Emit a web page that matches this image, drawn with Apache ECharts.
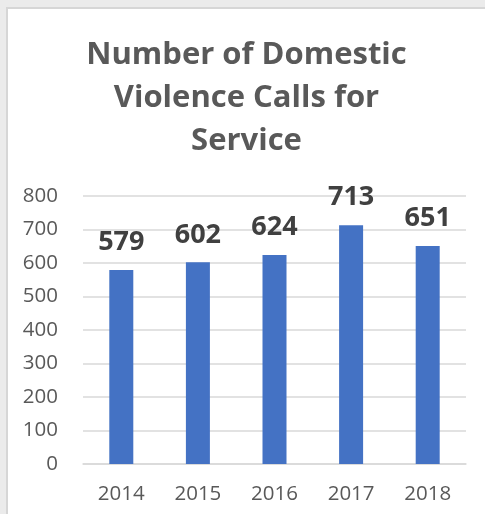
<!DOCTYPE html>
<html>
<head>
<meta charset="utf-8">
<script src="https://cdn.jsdelivr.net/npm/echarts@6/dist/echarts.min.js"></script>
<style>
  html, body { margin: 0; padding: 0; background: #ebebeb; width: 485px; height: 514px; overflow: hidden; }
  #chart { position: absolute; left: 6px; top: 7px; width: 477px; height: 505px; background: #ffffff;
           border-left: 2px solid #d6d6d6; border-top: 2px solid #d6d6d6; }
</style>
</head>
<body>
<div id="chart"></div>
<script>
const categories = ['2014', '2015', '2016', '2017', '2018'];
const calls = [579, 602, 624, 713, 651];
const yTicks = { min: 0, max: 800, interval: 100 };
const titleText = 'Number of Domestic\nViolence Calls for\nService';

const chart = echarts.init(document.getElementById('chart'), null, { renderer: 'canvas' });
const fontFamily = '"Open Sans", "Noto Sans", sans-serif';
chart.setOption({
  animation: false,
  backgroundColor: '#ffffff',
  title: {
    text: titleText,
    left: 'center',
    top: 20,
    textStyle: {
      fontFamily: fontFamily,
      fontWeight: 'bold',
      fontSize: 31,
      lineHeight: 43,
      color: '#595959'
    }
  },
  grid: { left: 75, right: 19, top: 187, bottom: 50, containLabel: false },
  xAxis: {
    type: 'category',
    data: categories,
    axisLine: { show: true, lineStyle: { color: '#d9d9d9', width: 1.5 } },
    axisTick: { show: false },
    axisLabel: { color: '#595959', fontSize: 20.5, fontFamily: fontFamily, margin: 20 }
  },
  yAxis: {
    type: 'value',
    min: yTicks.min,
    max: yTicks.max,
    interval: yTicks.interval,
    axisLine: { show: false },
    axisTick: { show: false },
    axisLabel: { color: '#595959', fontSize: 20.5, fontFamily: fontFamily, margin: 25 },
    splitLine: { lineStyle: { color: '#d9d9d9', width: 1.5 } }
  },
  series: [{
    type: 'bar',
    data: calls,
    barWidth: 24,
    itemStyle: { color: '#4472c4' },
    label: {
      show: true,
      position: 'top',
      distance: 14,
      fontFamily: fontFamily,
      fontWeight: 'bold',
      fontSize: 27,
      color: '#404040'
    }
  }]
});
</script>
</body>
</html>
